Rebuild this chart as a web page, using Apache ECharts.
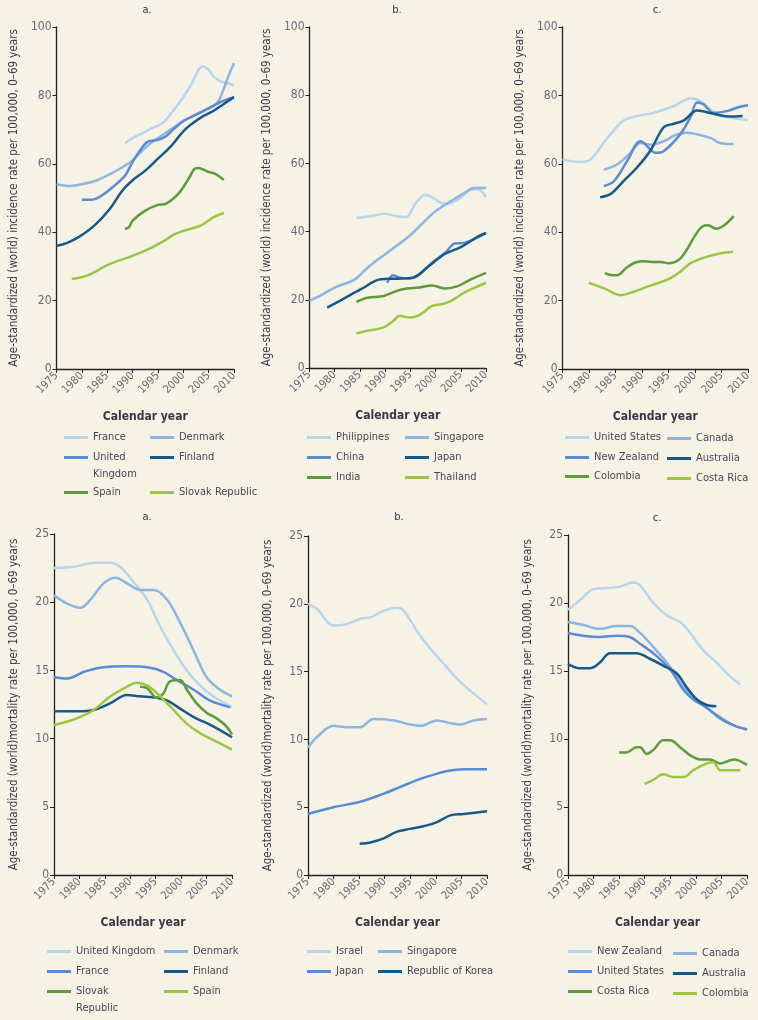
<!DOCTYPE html>
<html><head><meta charset="utf-8">
<script src="https://cdn.jsdelivr.net/npm/echarts@6/dist/echarts.min.js"></script>
<style>
html,body{margin:0;padding:0;background:#f6f3e6;width:758px;height:1020px;overflow:hidden}
.p{position:absolute}
</style></head><body>
<div id="p0" class="p" style="left:0;top:0;width:273px;height:510px"></div>
<div id="p1" class="p" style="left:253px;top:0;width:273px;height:510px"></div>
<div id="p2" class="p" style="left:506px;top:0;width:252px;height:510px"></div>
<div id="p3" class="p" style="left:0;top:510px;width:273px;height:510px"></div>
<div id="p4" class="p" style="left:253px;top:510px;width:273px;height:510px"></div>
<div id="p5" class="p" style="left:506px;top:510px;width:252px;height:510px"></div>
<script>
// ---------------- DATA ----------------
const yearTicks = [1975, 1980, 1985, 1990, 1995, 2000, 2005, 2010];
const incidenceTicks = [0, 20, 40, 60, 80, 100];
const mortalityTicks = [0, 5, 10, 15, 20, 25];

// Incidence, panel a
const incA_France = [[1988.5,66],[1990,67.5],[1992,69],[1994,70.5],[1996,72],[1998,75.5],[2000,79.5],[2001.5,83],[2003,87.5],[2004,88.5],[2005,87.5],[2006,85.5],[2007.5,84],[2009,83.5],[2010,83]];
const incA_Denmark = [[1975,54],[1977.5,53.5],[1980,54],[1983,55.2],[1985.5,57],[1988,59],[1990,61],[1992,64],[1994,66.5],[1996,68.5],[1998,70.5],[2000,72.5],[2002,74],[2004,75.5],[2006,77],[2007,78.5],[2008,82],[2009,86],[2010,89.5]];
const incA_UK = [[1980,49.5],[1982,49.5],[1984,50.8],[1986.5,53.7],[1988.5,56.5],[1990,60.5],[1991.5,64],[1993,66.5],[1995,67],[1996.5,68],[1998,70],[2000,72.5],[2002,74],[2004,75.5],[2006,77],[2008,78.5],[2010,79.5]];
const incA_Finland = [[1975,36],[1977,36.8],[1979.5,38.7],[1982.5,42],[1985.5,46.8],[1988,52.2],[1990,55.2],[1992.5,58],[1995,61.5],[1997.5,65],[2000,69.5],[2002,72],[2004,74],[2006,75.5],[2008,77.5],[2010,79.5]];
const incA_Spain = [[1988.5,41],[1989.3,41.5],[1990,43.4],[1992.5,46.3],[1995,48],[1996.5,48.3],[1999,51.2],[2001,55.5],[2002.2,58.5],[2003,58.8],[2004.8,57.7],[2006.4,57],[2008,55.3]];
const incA_Slovak = [[1978,26.3],[1981,27.3],[1984.8,30.2],[1986.7,31.4],[1989.3,32.7],[1992.5,34.6],[1995.8,37.1],[1998.4,39.5],[2000.3,40.5],[2003.5,42],[2006,44.4],[2008,45.6]];

// Incidence, panel b
const incB_Philippines = [[1984.3,44],[1987,44.5],[1990,45.2],[1992.3,44.5],[1994.2,44.3],[1996,48.2],[1998,50.8],[1999.3,50],[2001.2,48.4],[2002.5,48.2],[2004.4,49.4],[2007,52.3],[2008.3,52.5],[2010,50.2]];
const incB_Singapore = [[1975,19.7],[1977.6,21.6],[1980,23.6],[1984,26],[1986.5,29.4],[1990.4,33.8],[1994.8,38.7],[1997.4,42.4],[2000,46],[2003,48.9],[2005.7,51.3],[2007.6,52.8],[2010,52.8]];
const incB_China = [[1990.4,25],[1991.6,27.2],[1992.9,26.5],[1994.8,26.2],[1996.8,27.5],[1999.3,30.9],[2001.9,33.8],[2003.8,36.5],[2005.7,36.7],[2007.6,37.7],[2010,39.6]];
const incB_Japan = [[1978.5,17.7],[1981.4,20],[1985.2,23.1],[1989.1,26],[1992.3,26.2],[1995.5,26.5],[1998.7,29.9],[2001.9,33.5],[2005.1,35.5],[2008.3,38.5],[2010,39.6]];
const incB_India = [[1984.3,19.4],[1986.5,20.6],[1989.7,21.1],[1992.3,22.6],[1994.2,23.3],[1996.8,23.6],[1999.3,24.2],[2001.9,23.3],[2004.4,24],[2007,26],[2010,27.9]];
const incB_Thailand = [[1984.3,10.1],[1986.5,10.9],[1989.7,11.9],[1991.6,13.8],[1992.9,15.3],[1994.8,14.8],[1996.8,15.5],[1999.3,18.2],[2001.2,18.7],[2003.1,19.7],[2005.7,22.1],[2008.3,23.9],[2010,25]];

// Incidence, panel c
const incC_US = [[1975,61.3],[1978.4,60.5],[1980.3,61.3],[1983.5,67.6],[1986.6,72.7],[1989.1,74],[1992.2,74.9],[1996,76.9],[1999.1,79.1],[2000.4,78.8],[2002.2,76.9],[2004.1,74.4],[2006.6,73.5],[2010,72.8]];
const incC_Canada = [[1982.8,58.3],[1985.3,59.8],[1987.8,63.2],[1989.7,66.1],[1991.6,65.6],[1994.1,66.6],[1996.6,68.6],[1998.5,69.1],[2000.4,68.6],[2002.9,67.6],[2004.7,66.1],[2007.2,65.8]];
const incC_NZ = [[1982.8,53.5],[1984.7,54.9],[1987.2,60.8],[1989.7,66.6],[1991.6,64.2],[1992.5,63.2],[1994.1,63.7],[1997.2,68.6],[1999.1,73.5],[2000.4,77.9],[2001.6,77.4],[2003.5,74.9],[2006,75.4],[2008.5,76.7],[2010,77.1]];
const incC_Australia = [[1982.1,50.2],[1984.1,51.2],[1986.6,55.1],[1989.1,59],[1991.6,63.9],[1994.1,70.7],[1996,71.7],[1997.9,72.7],[2000.4,75.6],[2002.2,75.1],[2004.1,74.4],[2006.6,73.8],[2009,74]];
const incC_Colombia = [[1983,28],[1984.5,27.4],[1985.5,27.5],[1987,29.5],[1988.5,31],[1990,31.5],[1992,31.3],[1993.5,31.3],[1995,30.9],[1997,32],[1998.5,35],[2000,39],[2001.5,41.8],[2002.5,42],[2004,41],[2005.5,42],[2007.3,44.7]];
const incC_CostaRica = [[1980,25.2],[1983,23.5],[1985.9,21.6],[1988.4,22.6],[1990.9,24],[1992.8,25],[1995.3,26.5],[1997.2,28.4],[1999.1,30.9],[2002.2,32.8],[2004.7,33.8],[2007.2,34.3]];

// Mortality, panel a
const morA_UK = [[1975,22.5],[1979,22.6],[1983,22.9],[1986,22.9],[1988,22.6],[1990.6,21.5],[1993.3,20.2],[1995.9,18.2],[1998.5,16.5],[2001.1,15],[2003.7,13.9],[2006.3,13.1],[2010,12.3]];
const morA_Denmark = [[1975,20.5],[1977.6,19.9],[1980.2,19.6],[1982.2,20.2],[1984.8,21.4],[1987.1,21.8],[1989.3,21.4],[1991.9,20.9],[1994.6,20.9],[1997.2,20.2],[1999.8,18.5],[2002.4,16.5],[2005,14.5],[2007.6,13.6],[2010,13.1]];
const morA_France = [[1975,14.5],[1977.6,14.4],[1980.9,14.9],[1984.1,15.2],[1989.3,15.3],[1993.9,15.2],[1996.5,14.9],[1999.1,14.3],[2002.4,13.6],[2005.6,12.8],[2009.6,12.3]];
const morA_Finland = [[1975,12],[1979.6,12],[1982.8,12.1],[1986.1,12.6],[1989.3,13.2],[1991.9,13.1],[1995.2,13],[1997.2,12.8],[1999.8,12.2],[2002.4,11.6],[2006.3,10.9],[2010,10.1]];
const morA_Slovak = [[1991.9,13.8],[1993.3,13.7],[1995.2,13],[1996.5,13.3],[1997.8,14.2],[1999.8,14.3],[2001.1,13.6],[2003,12.6],[2005,11.9],[2006.9,11.5],[2008.9,10.9],[2010,10.3]];
const morA_Spain = [[1975,11],[1978.9,11.4],[1982.8,12.1],[1986.1,13.1],[1989.3,13.8],[1991.3,14.1],[1993.3,13.9],[1995.9,13.1],[1998.5,12.1],[2001.1,11.1],[2003.7,10.4],[2006.3,9.9],[2010,9.2]];

// Mortality, panel b
const morB_Israel = [[1975,20],[1976.8,19.6],[1980,18.4],[1982.6,18.5],[1985.2,18.9],[1987.2,19],[1989.8,19.5],[1992.4,19.7],[1993.7,19.5],[1996.3,18],[1998.9,16.7],[2001.5,15.6],[2004.1,14.5],[2006.7,13.6],[2010,12.6]];
const morB_Singapore = [[1975,9.4],[1976.8,10.2],[1980,11],[1982.6,10.9],[1985.2,10.9],[1987.8,11.5],[1991.8,11.4],[1995,11.1],[1997,11],[2000.2,11.4],[2002.8,11.2],[2004.8,11.1],[2007.4,11.4],[2010,11.5]];
const morB_Japan = [[1975,4.5],[1980,5],[1985.2,5.4],[1989.8,6],[1993.1,6.5],[1996.3,7],[1999.6,7.4],[2002.8,7.7],[2006.1,7.8],[2010,7.8]];
const morB_Korea = [[1985.1,2.3],[1987.2,2.4],[1989.8,2.7],[1992.4,3.2],[1995,3.4],[1997.6,3.6],[2000.2,3.9],[2002.8,4.4],[2005.4,4.5],[2010,4.7]];

// Mortality, panel c
const morC_NZ = [[1975,19.5],[1977.3,20.2],[1979.9,21],[1982.5,21.1],[1985.1,21.2],[1987.8,21.5],[1989.1,21.3],[1991.7,20],[1994.3,19.1],[1996.9,18.6],[1998.9,17.8],[2001.5,16.5],[2004.1,15.6],[2006.7,14.6],[2008.7,14]];
const morC_Canada = [[1975,18.6],[1977.9,18.4],[1981.2,18.1],[1984.5,18.3],[1987.1,18.3],[1989.1,17.8],[1992.3,16.5],[1995,15.3],[1997.6,13.8],[2000.2,12.9],[2002.1,12.3],[2004.8,11.6],[2007.4,11],[2010,10.7]];
const morC_US = [[1975,17.8],[1977.9,17.6],[1981.2,17.5],[1984.5,17.6],[1987.1,17.5],[1989.1,17],[1991.7,16.3],[1995,15.1],[1997.6,13.6],[1999.5,12.9],[2002.1,12.3],[2004.8,11.5],[2007.4,11],[2010,10.7]];
const morC_Australia = [[1975,15.5],[1977.3,15.2],[1979.3,15.2],[1981.2,15.6],[1983.2,16.3],[1985.8,16.3],[1988.4,16.3],[1991,15.9],[1993.6,15.4],[1996.3,14.8],[1998.2,13.8],[2000.2,12.9],[2002.1,12.5],[2004,12.4]];
const morC_CostaRica = [[1985,9],[1986.4,9],[1988.4,9.4],[1989.1,9.4],[1990.4,8.9],[1991.7,9.2],[1993.6,9.9],[1995,9.9],[1996.9,9.4],[1998.9,8.8],[2000.8,8.5],[2002.8,8.5],[2004.8,8.2],[2007.4,8.5],[2010,8.1]];
const morC_Colombia = [[1990,6.7],[1991.7,7],[1993.6,7.4],[1995.6,7.2],[1997.6,7.2],[1999.5,7.7],[2001.5,8.1],[2003.4,8.3],[2004.8,7.7],[2006.7,7.7],[2008.7,7.7]];

// ---------------- STYLE ----------------
const F = "'Liberation Sans Narrow','DejaVu Sans Condensed','Roboto Condensed',sans-serif";
const C = {vl:'#b9d5eb', l:'#8cb5e2', m:'#5b8cd3', d:'#17598b', dg:'#5f9b3b', lg:'#9cc642'};
const incName = 'Age-standardized (world) incidence rate per 100,000, 0\u201369 years';
const morName = 'Age-standardized (world)mortality rate per 100,000, 0\u201369 years';

const panels = [
  { id:'p0', title:'a.', tx:147, ty:10, grid:{left:53,right:39,top:27,bottom:141}, ticks:incidenceTicks, yName:incName,
    extra:[{text:'Kingdom', x:93, y:474}],
    series:[
      {name:'France', data:incA_France, color:C.vl, lx:64, ly:439},
      {name:'Denmark', data:incA_Denmark, color:C.l, lx:150, ly:439},
      {name:'United Kingdom', label:'United', data:incA_UK, color:C.m, lx:64, ly:459},
      {name:'Finland', data:incA_Finland, color:C.d, lx:150, ly:459},
      {name:'Spain', data:incA_Spain, color:C.dg, lx:64, ly:494},
      {name:'Slovak Republic', data:incA_Slovak, color:C.lg, lx:150, ly:494}
    ]},
  { id:'p1', title:'b.', tx:144, ty:10, grid:{left:50,right:40,top:27,bottom:142}, ticks:incidenceTicks, yName:incName,
    series:[
      {name:'Philippines', data:incB_Philippines, color:C.vl, lx:54, ly:439},
      {name:'Singapore', data:incB_Singapore, color:C.l, lx:152, ly:439},
      {name:'China', data:incB_China, color:C.m, lx:54, ly:459},
      {name:'Japan', data:incB_Japan, color:C.d, lx:152, ly:459},
      {name:'India', data:incB_India, color:C.dg, lx:54, ly:479},
      {name:'Thailand', data:incB_Thailand, color:C.lg, lx:152, ly:479}
    ]},
  { id:'p2', title:'c.', tx:151, ty:10, grid:{left:56,right:10,top:27,bottom:141}, ticks:incidenceTicks, yName:incName,
    series:[
      {name:'United States', data:incC_US, color:C.vl, lx:59, ly:439},
      {name:'Canada', data:incC_Canada, color:C.l, lx:161, ly:440},
      {name:'New Zealand', data:incC_NZ, color:C.m, lx:59, ly:459},
      {name:'Australia', data:incC_Australia, color:C.d, lx:161, ly:460},
      {name:'Colombia', data:incC_Colombia, color:C.dg, lx:59, ly:478},
      {name:'Costa Rica', data:incC_CostaRica, color:C.lg, lx:161, ly:480}
    ]},
  { id:'p3', title:'a.', tx:147, ty:7, grid:{left:53,right:41,top:24,bottom:145}, ticks:mortalityTicks, yName:morName,
    extra:[{text:'Republic', x:76, y:498}],
    series:[
      {name:'United Kingdom', data:morA_UK, color:C.vl, lx:47, ly:443},
      {name:'Denmark', data:morA_Denmark, color:C.l, lx:164, ly:443},
      {name:'France', data:morA_France, color:C.m, lx:47, ly:463},
      {name:'Finland', data:morA_Finland, color:C.d, lx:164, ly:463},
      {name:'Slovak Republic', label:'Slovak', data:morA_Slovak, color:C.dg, lx:47, ly:483},
      {name:'Spain', data:morA_Spain, color:C.lg, lx:164, ly:483}
    ]},
  { id:'p4', title:'b.', tx:146, ty:7, grid:{left:55,right:39,top:26,bottom:145}, ticks:mortalityTicks, yName:morName,
    series:[
      {name:'Israel', data:morB_Israel, color:C.vl, lx:54, ly:443},
      {name:'Singapore', data:morB_Singapore, color:C.l, lx:125, ly:443},
      {name:'Japan', data:morB_Japan, color:C.m, lx:54, ly:463},
      {name:'Republic of Korea', data:morB_Korea, color:C.d, lx:125, ly:463}
    ]},
  { id:'p5', title:'c.', tx:151, ty:8, grid:{left:62,right:11,top:25,bottom:145}, ticks:mortalityTicks, yName:morName,
    series:[
      {name:'New Zealand', data:morC_NZ, color:C.vl, lx:62, ly:443},
      {name:'Canada', data:morC_Canada, color:C.l, lx:167, ly:445},
      {name:'United States', data:morC_US, color:C.m, lx:62, ly:463},
      {name:'Australia', data:morC_Australia, color:C.d, lx:167, ly:465},
      {name:'Costa Rica', data:morC_CostaRica, color:C.dg, lx:62, ly:483},
      {name:'Colombia', data:morC_Colombia, color:C.lg, lx:167, ly:485}
    ]}
];

const textCol = '#4a4552';
const tickCol = '#6e6676';

panels.forEach(function(p){
  const chart = echarts.init(document.getElementById(p.id), null, {renderer:'canvas'});
  const t = p.ticks;
  const yInt = t[1] - t[0];
  const option = {
    backgroundColor: 'transparent',
    animation: false,
    grid: p.grid,
    xAxis: {
      type:'value', min:yearTicks[0], max:yearTicks[yearTicks.length-1], interval:yearTicks[1]-yearTicks[0],
      axisLine:{show:true, onZero:false, lineStyle:{color:'#222', width:1.3}},
      axisTick:{show:true, length:4, lineStyle:{color:'#222', width:1}},
      splitLine:{show:false},
      axisLabel:{rotate:45, fontSize:11, color:tickCol, fontFamily:F, margin:5, showMinLabel:true, showMaxLabel:true, formatter:function(v){return String(v);}},
      name:'Calendar year', nameLocation:'middle', nameGap:42,
      nameTextStyle:{fontSize:12, fontFamily:F, color:'#3a3446', fontWeight:'bold'}
    },
    yAxis: {
      type:'value', min:t[0], max:t[t.length-1], interval:yInt,
      axisLine:{show:true, lineStyle:{color:'#222', width:1.3}},
      axisTick:{show:true, length:4, lineStyle:{color:'#222', width:1}},
      splitLine:{show:false},
      axisLabel:{fontSize:12, color:tickCol, fontFamily:F, margin:5},
      name:p.yName, nameLocation:'middle', nameRotate:90, nameGap:34,
      nameTextStyle:{fontSize:11.5, fontFamily:F, color:'#3e3848'}
    },
    legend: p.series.map(function(s){
      const lg = {
        data:[s.name], left:s.lx, top:s.ly-7, padding:0, itemGap:0,
        icon:'rect', itemWidth:24, itemHeight:3, selectedMode:false,
        textStyle:{fontSize:11, fontFamily:F, color:textCol}
      };
      if (s.label) { const lb = s.label; lg.formatter = function(){ return lb; }; }
      return lg;
    }),
    graphic: [{type:'text', x:p.tx, y:p.ty, style:{text:p.title, font:'11px '+F, fill:'#3a3446', textAlign:'center', textVerticalAlign:'middle'}}]
      .concat((p.extra||[]).map(function(e){
        return {type:'text', x:e.x, y:e.y, style:{text:e.text, font:'11px '+F, fill:textCol, textAlign:'left', textVerticalAlign:'middle'}};
      })),
    series: p.series.map(function(s){
      return {
        type:'line', name:s.name, data:s.data, smooth:0.35, symbol:'none', showSymbol:false,
        lineStyle:{color:s.color, width:2.5}, itemStyle:{color:s.color}, emphasis:{disabled:true}
      };
    })
  };
  chart.setOption(option);
});
</script>
</body></html>
